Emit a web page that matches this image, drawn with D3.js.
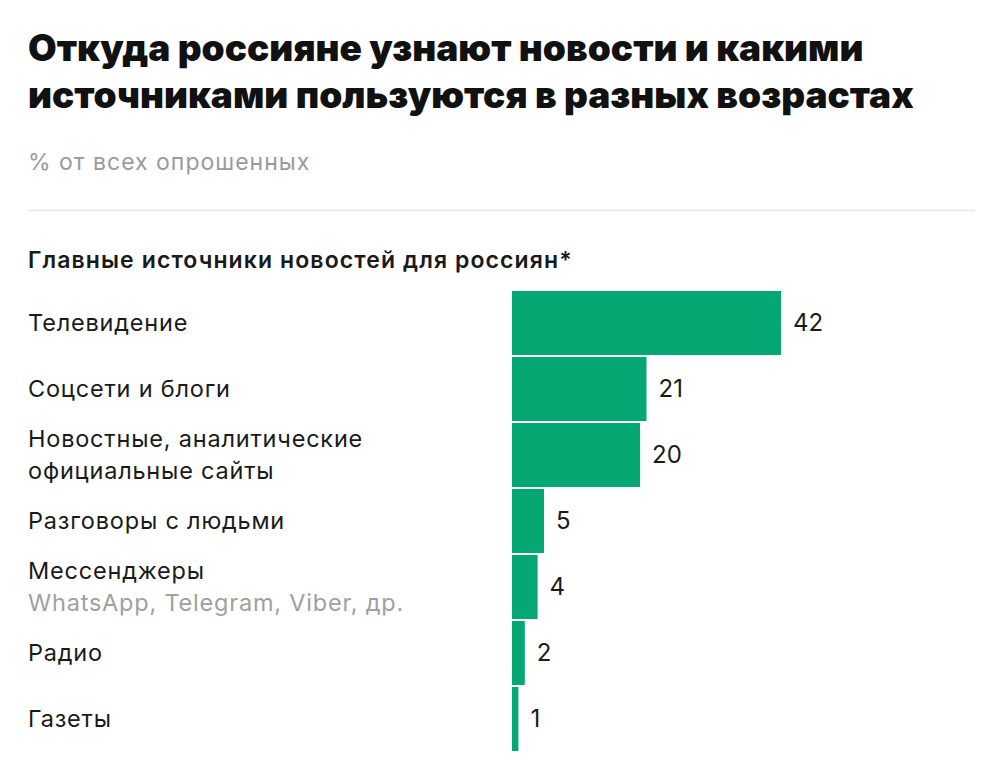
<!DOCTYPE html>
<html>
<head>
<meta charset="utf-8">
<script src="https://cdn.jsdelivr.net/npm/d3@7"></script>
<style>
  body { margin: 0; background: #fff; }
  svg text { font-family: Inter, Roboto, "Noto Sans", sans-serif; }
</style>
</head>
<body>
<script>
// data
var titleLines = ["Откуда россияне узнают новости и какими", "источниками пользуются в разных возрастах"];
var subtitle = "% от всех опрошенных";
var sectionTitle = "Главные источники новостей для россиян*";

var categories = [
  ["Телевидение"],
  ["Соцсети и блоги"],
  ["Новостные, аналитические", "официальные сайты"],
  ["Разговоры с людьми"],
  ["Мессенджеры"],
  ["Радио"],
  ["Газеты"]
];
var notes = ["", "", "", "", "WhatsApp, Telegram, Viber, др.", "", ""];
var values = [42, 21, 20, 5, 4, 2, 1];

var width = 997, height = 780;
var barColor = "#05a872";

var svg = d3.select("body").append("svg")
  .attr("width", width)
  .attr("height", height);

// header
svg.selectAll(".title")
  .data(titleLines)
  .enter().append("text")
  .attr("class", "title")
  .attr("x", 28)
  .attr("y", function(d, i) { return 61 + i * 47; })
  .style("font-size", "37px")
  .style("font-weight", 900)
  .style("fill", "#111")
  .text(function(d) { return d; });

svg.append("text")
  .attr("x", 28)
  .attr("y", 170)
  .style("font-size", "23px")
  .style("letter-spacing", "1px")
  .style("fill", "#9a9a9a")
  .text(subtitle);

svg.append("line")
  .attr("x1", 28).attr("x2", 975)
  .attr("y1", 210.5).attr("y2", 210.5)
  .style("stroke", "#e6e6e6")
  .style("stroke-width", 1.5);

svg.append("text")
  .attr("x", 28)
  .attr("y", 268)
  .style("font-size", "23px")
  .style("font-weight", 600)
  .style("letter-spacing", "1.1px")
  .style("fill", "#1a1a1a")
  .text(sectionTitle);

// scales
var ids = d3.range(values.length);

var x = d3.scaleLinear()
  .domain([0, 42])
  .range([512, 781]);

var y = d3.scaleBand()
  .domain(ids)
  .range([291, 751])
  .paddingInner(2 / 66);

// bars
svg.selectAll(".bar")
  .data(ids)
  .enter().append("rect")
  .attr("class", "bar")
  .attr("x", x(0))
  .attr("y", function(i) { return y(i); })
  .attr("width", function(i) { return x(values[i]) - x(0); })
  .attr("height", y.bandwidth())
  .style("fill", barColor);

// values
svg.selectAll(".val")
  .data(ids)
  .enter().append("text")
  .attr("class", "val")
  .attr("x", function(i) { return x(values[i]) + 12; })
  .attr("y", function(i) { return y(i) + y.bandwidth() / 2; })
  .attr("dy", "0.35em")
  .style("font-size", "24px")
  .style("fill", "#1a1a1a")
  .text(function(i) { return values[i]; });

// category labels
var labels = svg.selectAll(".lab")
  .data(ids)
  .enter().append("text")
  .attr("class", "lab")
  .style("font-size", "23.5px")
  .style("letter-spacing", "0.8px")
  .style("fill", "#1a1a1a");

labels.each(function(i) {
  var lines = categories[i].map(function(t) { return {t: t, c: "#1a1a1a"}; });
  if (notes[i]) lines.push({t: notes[i], c: "#a0a0a0"});
  var cy = y(i) + y.bandwidth() / 2;
  var top = cy - (lines.length - 1) * 16;
  d3.select(this).selectAll("tspan")
    .data(lines)
    .enter().append("tspan")
    .attr("x", 28)
    .attr("y", function(d, k) { return top + k * 32; })
    .attr("dy", "0.35em")
    .style("fill", function(d) { return d.c; })
    .text(function(d) { return d.t; });
});
</script>
</body>
</html>
